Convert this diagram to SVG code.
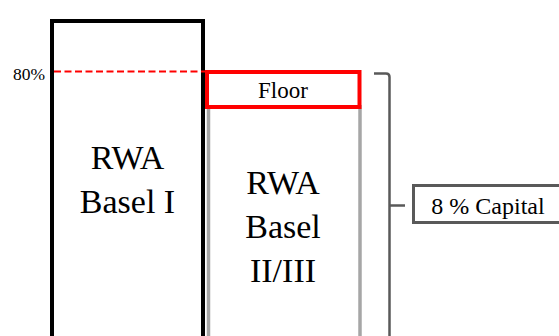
<svg xmlns="http://www.w3.org/2000/svg" width="559" height="336" viewBox="0 0 559 336">
<style>
text{font-family:"Liberation Serif","Times New Roman",serif;fill:#000;text-anchor:middle}
.big{font-size:34px}
</style>
<rect width="559" height="336" fill="#fff"/>
<g id="basel2">
<line x1="208.5" y1="105" x2="208.5" y2="340" stroke="#a6a6a6" stroke-width="3.5"/>
<line x1="360" y1="105" x2="360" y2="340" stroke="#a6a6a6" stroke-width="3.5"/>
<text class="big" x="283" y="194">RWA</text>
<text class="big" x="283" y="238">Basel</text>
<text class="big" x="283" y="282">II/III</text>
</g>
<g id="basel1">
<rect x="52" y="21" width="151" height="330" fill="none" stroke="#000" stroke-width="4"/>
<text class="big" x="127.5" y="169">RWA</text>
<text class="big" x="127.5" y="213">Basel I</text>
</g>
<g id="floor">
<rect x="207" y="72" width="152.5" height="35" fill="#fff" stroke="#ff0000" stroke-width="4"/>
<text x="283" y="98" style="font-size:23px">Floor</text>
</g>
<g id="threshold">
<line x1="54" y1="71.5" x2="205" y2="71.5" stroke="#ff0000" stroke-width="2.2" stroke-dasharray="7,3.5"/>
<text x="29" y="80" style="font-size:17.5px">80%</text>
</g>
<g id="connectors">
<path d="M374,73.5 H386 Q389.5,73.5 389.5,77 V340 M389.5,205 Q389.5,205.5 393,205.5 H405" fill="none" stroke="#595959" stroke-width="2.5"/>
</g>
<g id="capital">
<rect x="413.5" y="185.5" width="160" height="37" fill="#fff" stroke="#595959" stroke-width="3"/>
<text x="488" y="214" style="font-size:24px">8 % Capital</text>
</g>
</svg>
